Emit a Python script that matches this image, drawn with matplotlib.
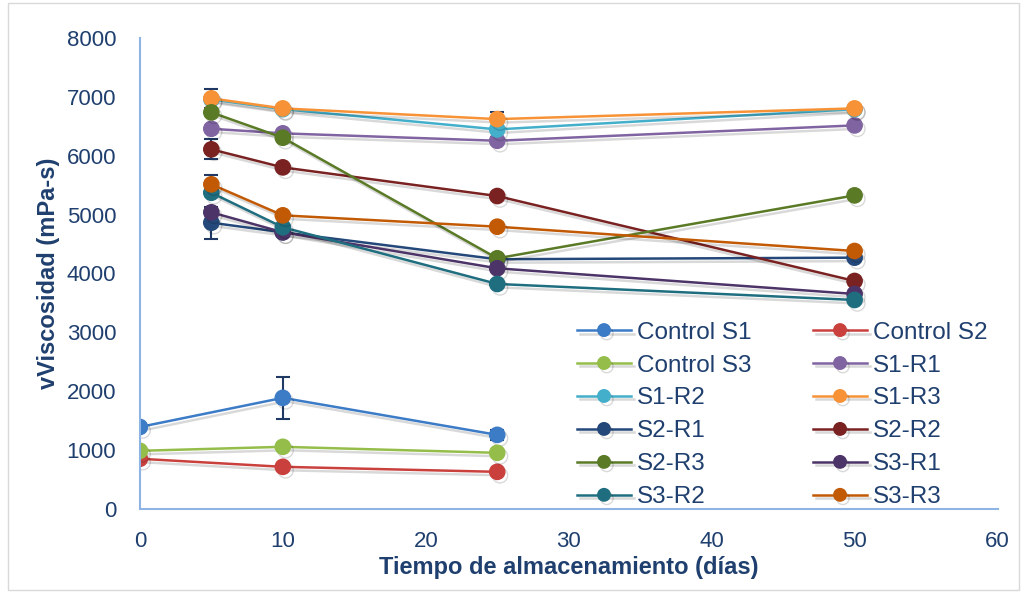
import matplotlib
matplotlib.use("Agg")
import matplotlib.pyplot as plt
import matplotlib.patheffects as pe
from matplotlib.patches import Rectangle

plt.rcParams['font.family'] = ['Liberation Sans', 'DejaVu Sans']

days_ctrl = [0, 10, 25]
days_trt = [5, 10, 25, 50]

series_names = ["Control S1", "Control S2", "Control S3", "S1-R1", "S1-R2", "S1-R3",
                "S2-R1", "S2-R2", "S2-R3", "S3-R1", "S3-R2", "S3-R3"]

control_s1 = [1390, 1885, 1256]
control_s2 = [850, 713, 628]
control_s3 = [985, 1053, 951]
s1_r1 = [6457, 6379, 6253, 6514]
s1_r2 = [6956, 6790, 6446, 6790]
s1_r3 = [6973, 6803, 6621, 6803]
s2_r1 = [4861, 4698, 4240, 4267]
s2_r2 = [6107, 5801, 5314, 3871]
s2_r3 = [6735, 6305, 4256, 5325]
s3_r1 = [5037, 4698, 4086, 3650]
s3_r2 = [5370, 4783, 3820, 3548]
s3_r3 = [5513, 4986, 4793, 4380]

err_control_s1 = [0, 360, 80]
err_s1_r1 = [0, 0, 60, 0]
err_s1_r3 = [160, 0, 120, 0]
err_s2_r1 = [270, 0, 0, 0]
err_s2_r2 = [170, 0, 0, 0]
err_s3_r3 = [160, 0, 0, 0]

colors = ["#3C7BC6", "#C9403D", "#94BD4A", "#8064A2", "#43AFCB", "#F79236",
          "#24487A", "#7A2222", "#5A7A26", "#4D3468", "#1F6E80", "#C25A05"]

data = [control_s1, control_s2, control_s3, s1_r1, s1_r2, s1_r3,
        s2_r1, s2_r2, s2_r3, s3_r1, s3_r2, s3_r3]
errs = {0: err_control_s1, 3: err_s1_r1, 5: err_s1_r3, 6: err_s2_r1, 7: err_s2_r2, 11: err_s3_r3}

text_color = "#1F3F6E"
axis_color = "#8EB4E3"

fig = plt.figure(figsize=(10.21, 5.93), dpi=100)
ax = fig.add_axes([0.137, 0.142, 0.840, 0.794])

shadow = [pe.SimpleLineShadow(offset=(2, -2.5), shadow_color='black', alpha=0.15), pe.Normal()]

handles = []
for i, (name, vals) in enumerate(zip(series_names, data)):
    x = days_ctrl if i < 3 else days_trt
    if i in errs:
        ax.errorbar(x, vals, yerr=errs[i], fmt='none', ecolor="#1F3864",
                    elinewidth=1.5, capsize=5, capthick=1.5, zorder=2)
    h, = ax.plot(x, vals, color=colors[i], lw=1.8, marker='o', markersize=11,
                 markeredgecolor=colors[i], label=name, zorder=3, path_effects=shadow)
    handles.append(h)

ax.set_xlim(0, 60)
ax.set_ylim(0, 8000)
ax.set_xticks(range(0, 61, 10))
ax.set_yticks(range(0, 8001, 1000))
ax.tick_params(length=0, labelsize=16, colors=text_color)
ax.tick_params(axis='x', pad=16)
ax.tick_params(axis='y', pad=17)
for s in ['top', 'right']:
    ax.spines[s].set_visible(False)
for s in ['left', 'bottom']:
    ax.spines[s].set_color(axis_color)
    ax.spines[s].set_linewidth(1.5)
ax.spines['left'].set_zorder(4)

ax.set_xlabel("Tiempo de almacenamiento (días)", fontsize=17, fontweight='bold',
              color=text_color, labelpad=3)
ax.set_ylabel("vViscosidad (mPa-s)", fontsize=17, fontweight='bold',
              color=text_color, labelpad=5)

# legend filled row by row (two columns)
order = [0, 2, 4, 6, 8, 10, 1, 3, 5, 7, 9, 11]
leg = ax.legend([handles[k] for k in order], [series_names[k] for k in order],
                ncol=2, loc='lower left', bbox_to_anchor=(0.493, -0.03), frameon=False,
                fontsize=17.5, handlelength=2.2, handletextpad=0.25, columnspacing=2.55,
                labelspacing=0.45, borderaxespad=0.2)
for t in leg.get_texts():
    t.set_color(text_color)
for h in leg.legend_handles:
    h.set_markersize(9)

fig.patches.append(Rectangle((0.008, 0.005), 0.99, 0.99, transform=fig.transFigure,
                             fill=False, edgecolor="#D9D9D9", lw=1))

fig.savefig("out.png", dpi=100)
